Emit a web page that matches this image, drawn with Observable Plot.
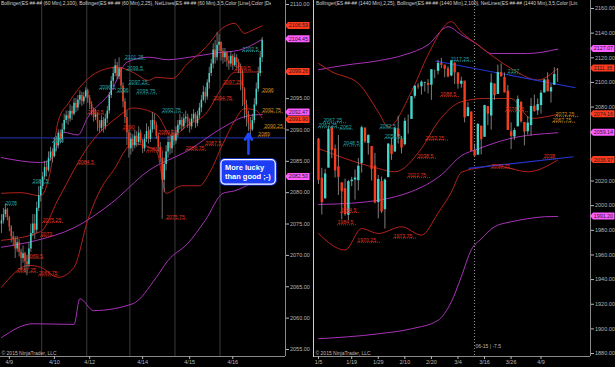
<!DOCTYPE html>
<html><head><meta charset="utf-8">
<script src="https://cdn.jsdelivr.net/npm/d3@7"></script>
<script src="https://cdn.jsdelivr.net/npm/@observablehq/plot@0.6"></script>
<style>
html,body{margin:0;padding:0;background:#000;}
#wrap{position:relative;width:615px;height:367px;background:#000;overflow:hidden;font-family:"Liberation Sans",Arial,sans-serif;}
#wrap svg{position:absolute;top:0;}
.hdr{position:absolute;top:1px;font-size:4.9px;line-height:6px;color:#d0d0d0;white-space:nowrap;overflow:hidden;z-index:5;}
.sep{position:absolute;left:313px;top:0;width:1px;height:357px;background:#cfcfcf;z-index:4;}
</style></head><body><div id="wrap"></div>
<script>
// ---------------- LEFT PANEL (60 min) ----------------
const leftHeader = "Bollinger(ES ##-## (60 Min),2,100), Bollinger(ES ##-## (60 Min),2,25), NetLines(ES ##-## (60 Min),3,5,Color [Line],Color [De";
const leftTickLabels = ["4/9","4/10","4/12","4/14","4/15","4/16"];
const leftTickBars = [4, 27, 45, 72, 96, 118];
const leftSessionLengths = [21, 23, 22, 23, 23, 22];
const leftFirstOpen = 2075;
const leftClose = [
 2075.5,2076.5,2077.25,2076,2074.5,2073,2072.5,2071,2072,2070.5,2069.5,2070.25,2069,2068.5,2071,2073.5,2075,2074,2077.5,2079.5,2081,
 2082.5,2084,2083.5,2085.5,2086.5,2085.75,2088,2087.5,2089.5,2088.5,2090,2091.5,2092.25,2091.75,2093,2092.5,2094.25,2093.5,2094.75,2095.5,2094.5,2095.25,2096.25,
 2095,2094,2093.25,2092,2092.5,2091,2090.25,2091.5,2090.5,2091.75,2093,2095.5,2097.75,2099,2100.25,2098.5,2099.75,2097,2094.5,2092,2089.5,2087,
 2088.5,2087.5,2089,2088,2089.5,2088.25,2087,2088.5,2089.75,2088.5,2090,2091.5,2090.75,2089,2087.25,2085.5,2082,2084.5,2086.5,2088,2087,2089,2088.25,
 2089.5,2090.75,2091.5,2090.5,2091.75,2092,2091.25,2090.5,2091.75,2092.5,2091,2092.25,2093.5,2094.75,2096,2095.25,2097.5,2099,2100.5,2102.75,2101.5,2103.5,2104,
 2102.5,2101.5,2102.25,2101,2100.5,2101.75,2100.25,2101.5,2100.75,2100,2099,2096.5,2094,2092.5,2091,2090,2091.5,2094,2096.5,2099,2101.5,2104.25];
const leftHigh = [
 2076.5,2077.5,2078.25,2077.5,2076.25,2074.75,2073.75,2073,2073,2072.5,2071,2071.5,2070.5,2070,2072,2075,2076.5,2076.5,2078.5,2081,2082,
 2083.25,2085,2085,2086.5,2087.25,2087,2088.75,2089,2090,2090,2091,2092.5,2093,2093,2094,2093.75,2095,2095,2095.5,2096.25,2096,2096,2096.75,
 2096.5,2095.5,2094.5,2093.5,2093.25,2092.75,2091.5,2092.25,2092,2092.5,2093.75,2096,2098.5,2100,2101.25,2100.75,2101.5,2100,2097.5,2095,2093,2090,
 2089.5,2089.25,2090,2089.75,2090.5,2090,2088.5,2089.25,2091,2090.5,2091.5,2092.75,2092.5,2091.25,2089.5,2088,2086.5,2085.5,2087.5,2089,2089,2090,2089.5,
 2090.5,2091.5,2092.5,2092,2092.5,2093,2092.5,2091.75,2092.5,2093.25,2092.75,2093,2094.25,2095.5,2097,2096.75,2098,2100,2101.25,2103.75,2104.25,2105.5,2105.25,
 2104,2103,2103,2102.5,2101.75,2102.5,2102,2102.25,2102,2101.25,2100.5,2099.5,2096.75,2094.75,2093,2092,2092.5,2095,2097.5,2100,2102.5,2104.75];
const leftLow = [
 2073.5,2075,2076,2075.5,2073.75,2072,2071.5,2069.5,2070.5,2069.75,2067.5,2068.75,2067.25,2066.75,2068,2070.5,2073,2072.5,2073.5,2077,2078.5,
 2080.5,2082,2082.5,2083.25,2085,2084.75,2085.5,2086.5,2087,2087.75,2088,2089.5,2091,2090.75,2091.25,2091.5,2092.25,2092.75,2093,2094,2093.75,2094,2095,
 2094.25,2093.25,2092.25,2091.25,2091.5,2089.75,2089.5,2089.75,2089.5,2090,2091,2092.5,2095,2097,2098.5,2098,2098,2096.5,2093.5,2091,2087.5,2085.5,
 2086,2086.5,2087,2087.25,2087.5,2087.75,2086.25,2086.5,2088,2087.75,2088,2089.5,2090,2088.5,2086.5,2084.75,2075.75,2080,2083.5,2085.5,2086,2086.25,2087.5,
 2087.75,2088.75,2090,2089.75,2090,2091,2090.25,2089.5,2090,2091.25,2090.25,2090.5,2091.75,2092.75,2094.5,2094.25,2094.75,2096.5,2098.5,2099.75,2100.5,2101,2102.5,
 2101,2100.5,2100.75,2100,2099.5,2100,2099.5,2100,2099.75,2099,2096.25,2093.75,2091.75,2090.5,2089.75,2089,2089.75,2091,2093.75,2096,2098.5,2100.75];
// Bollinger (2,100) and (2,25) on 60 min: [bar, value]
const h100Upper = [[0,2085.6],[20,2084.8],[25,2085.3],[32,2089.6],[39,2089.2],[44,2092],[56,2096.2],[64,2100.8],[75,2101.6],[85,2101.2],[96,2101.6],[110,2102.3],[121,2102.7],[133,2104.45]];
const h100Mid = [[0,2071.3],[18,2072.4],[37,2074.4],[56,2078.3],[75,2083.5],[95,2086.7],[113,2090.4],[125,2092.2],[133,2092.47]];
const h100Lower = [[0,2056.9],[16,2059.1],[37,2059.0],[40,2063.1],[47,2061.2],[67,2062.3],[79,2066.5],[85,2069.2],[95,2071.9],[104,2075.6],[113,2079.9],[119,2080.3],[128,2081.6],[133,2082.5]];
const h25Upper = [[0,2079.9],[10,2080],[20,2079.5],[25,2083.5],[29,2091.5],[34,2094.2],[45,2098.4],[51,2099.5],[59,2100],[67,2099.2],[75,2097.9],[79,2098.4],[87,2098.2],[95,2100.6],[104,2103.1],[113,2106.3],[119,2107],[124,2105.4],[128,2105.9],[133,2106.59]];
const h25Mid = [[0,2072.4],[20,2073.8],[29,2079],[45,2087.7],[59,2092],[67,2093.5],[79,2092.5],[87,2089],[95,2090.8],[104,2092.5],[113,2097],[119,2099.2],[133,2099.26]];
const h25Lower = [[0,2064.9],[14,2068.4],[20,2068.1],[29,2066.5],[37,2068.1],[44,2075.6],[51,2080.8],[57,2083.5],[67,2087.8],[79,2086.7],[84,2079.9],[92,2081.1],[101,2081.1],[106,2083.1],[113,2087.8],[119,2091.5],[124,2093.4],[130,2093.1],[133,2091.9]];
const leftLevels = [2088.75];
const leftNetText = ["2078","2081.5","2069.5","2067.25","2066.75","2073","2075.25","2088","2084.5","2092.5","2096.5","2096","2090","2101.25","2099.5","2097.25","2095.75","2086.5","2089.25","2092.75","2075.75","2086.75","2087.5","2094.75","2097.25","2099.5","2102.5","2096","2092.75","2090.25","2089"];
const leftNetBar  = [2,16,13,8,19,20,21,26,39,44,50,59,62,63,64,65,69,74,80,82,84,94,104,108,113,119,123,133,133,134,131];
const leftNetKind = ["hi","hi","lo","lo","lo","lo","lo","hi","lo","lo","hi","hi","lo","hi","hi","hi","hi","lo","lo","hi","lo","lo","lo","lo","lo","lo","hi","last","last","last","last"];
const leftNote = {text: "More lucky\nthan good ;-)", bar: 114, price: 2083.4};
const leftArrow = {bar: 126, from: 2086.2, to: 2089.4};
const leftYTicks = [2055,2060,2065,2070,2075,2080,2085,2090,2095,2100,2105,2110];

// ---------------- RIGHT PANEL (daily) ----------------
const rightHeader = "Bollinger(ES ##-## (1440 Min),2,25), Bollinger(ES ##-## (1440 Min),2,100), NetLines(ES ##-## (1440 Min),3,5,Color [Lin";
const rightDates = ["1/5","1/6","1/7","1/8","1/9","1/12","1/13","1/14","1/15","1/16","1/19","1/20","1/21","1/22","1/23","1/26","1/27","1/28","1/29","1/30",
 "2/2","2/3","2/4","2/5","2/6","2/9","2/10","2/11","2/12","2/13","2/16","2/17","2/18","2/19","2/20","2/23","2/24","2/25","2/26","2/27",
 "3/2","3/3","3/4","3/5","3/6","3/9","3/10","3/11","3/12","3/13","3/16","3/17","3/18","3/19","3/20","3/23","3/24","3/25","3/26","3/27","3/30","3/31",
 "4/1","4/2","4/6","4/7","4/8","4/9","4/10","4/13","4/14","4/15","4/16"];
const rightOpen = [2054,2022.25,2005.5,2030.5,2063.5,2046,2031.5,2018.5,2013.75,1992.25,
 2019.5,2020.75,2020.25,2034.25,2063,2050.5,2048,2032.25,2002.5,2019.5,
 1996.75,2022.75,2049,2043.5,2062.25,2053.5,2049.5,2068.5,2070,2088.75,
 2097,2096.5,2099.25,2099.25,2097.75,2109.75,2109,2115.25,2114,2111,
 2105.25,2115.75,2107.75,2098.5,2101,2072.25,2076,2044.75,2041,2064.5,
 2055.5,2080.5,2072.75,2098.75,2090.25,2108,2104,2093,2060,2055.75,
 2064,2084,2067.5,2060,2065,2080.75,2077,2081.25,2091.5,2102,
 2092.25,2097.75,2105];
const rightHigh = [2054.5,2030.25,2029.5,2064,2064.5,2049.25,2057,2018.5,2021.5,2020.5,
 2023,2029,2038.25,2064.5,2063,2057.5,2048,2042.5,2024.5,2023.25,
 2021.75,2050.25,2054.75,2063.5,2072.5,2056.25,2071,2073.5,2088.5,2097,
 2099,2101.25,2100.25,2102.25,2110.5,2110,2118,2119.5,2114,2112.75,
 2117.5,2115.75,2107.75,2104.25,2101,2083.5,2076,2050,2066.5,2064.5,
 2081.5,2080.5,2107,2098.75,2114,2115,2107.75,2097.5,2067.25,2062.75,
 2089,2084,2067.5,2072.25,2087,2089.75,2086.75,2093.25,2102.5,2107.75,
 2098.5,2112,2111.25];
const rightLow = [2017.25,1992.5,2005.5,2030.5,2038.25,2022.5,2008.25,1988.5,1991.5,1988,
 2015.5,2004.5,2012,2026.5,2050.5,2041,2020,2001.5,1989.25,1993.5,
 1981,2022.75,2036.75,2043.5,2050,2042,2048.5,2058,2070,2086.75,
 2094.5,2089.75,2092.25,2090.75,2085.5,2103,2106,2111.25,2103.75,2103.75,
 2104.5,2098.25,2094.5,2095.25,2067.25,2072.25,2044.25,2039.75,2041,2041.25,
 2055.5,2065,2061.25,2085.5,2090.25,2104.5,2091.5,2061,2045.5,2053,
 2064,2067,2048.5,2057.25,2056.5,2076,2073.25,2074.25,2091.5,2092.25,
 2083.25,2097.75,2100];
const rightClose = [2020.5,2002.5,2025.75,2062,2044.75,2028.25,2023,2011.25,1992.75,2019.5,
 2020.75,2022.5,2032,2063.25,2051.75,2057,2029.5,2002.25,2021.25,1995,
 2020.75,2050,2041.5,2062.5,2055.5,2046.75,2068.5,2068.5,2088.5,2097,
 2096.25,2100.25,2099.75,2097.5,2110.25,2109.75,2115.5,2114,2110.75,2104.5,
 2117.5,2107.75,2098.5,2101,2071.25,2079.5,2044.25,2040.25,2066,2053.5,
 2081.25,2074.25,2099.5,2089.25,2108,2104.5,2091.5,2061,2056.25,2061,
 2086.25,2068,2059.75,2067,2080.5,2076.25,2082,2091.25,2102,2092.5,
 2095.75,2106.5,2105];
const d100Upper = [[0,2110.3],[8,2114],[18,2117.6],[26,2122.5],[33,2130.6],[39,2145.2],[43,2138.7],[48,2130.6],[52,2123.5],[63,2123.5],[72,2127.07]];
const d100Mid = [[0,2001],[10,2002],[28,2011.5],[37,2025],[43,2040.5],[48,2046],[57,2054],[72,2059.14]];
const d100Lower = [[0,1892],[18,1896],[28,1900.1],[36,1907],[40,1922],[43,1942.3],[46,1964.2],[49,1973],[53,1982.9],[58,1986.9],[63,1989.4],[68,1991],[72,1991.2]];
const d25Upper = [[0,2115.4],[4,2108.7],[12,2099.2],[18,2076.2],[21,2064],[28,2092.5],[33,2122.5],[40,2149.3],[43,2141],[48,2130.4],[58,2111.4],[66,2102],[72,2111.35]];
const d25Mid = [[0,2046.4],[8,2038.3],[18,2030.2],[23,2027.5],[31,2046.4],[36,2068],[43,2084.3],[50,2087],[58,2087],[64,2070.8],[72,2074.16]];
const d25Lower = [[0,1977.4],[8,1964],[13,1981.5],[18,1977.4],[25,1982.9],[31,1976.1],[36,1994],[40,2011],[43,2027],[49,2031],[53,2033],[58,2030],[63,2027.5],[72,2036.97]];
const rightTrends = [[35.2,2117.4,77.4,2095.7],[45.2,2030.2,76.8,2039.7]];
const rightNetText = ["2067.25","2063.25","2062","2048.5","1994.5","1984.5","1970.25","2062.5","2054.5","1973.75","2022.75","2038.5","2053.25","2088.5","2117.25","2107","2076.25","2030.25","2038","2072.25","2067.75"];
const rightNetBar  = [1.5,0,6.5,7.5,6.6,5.7,11.7,18.5,20,22.6,26.8,29.8,32.2,36.7,39.8,57,56.3,52,67.8,71.4,70.5];
const rightNetKind = ["hi","hi","hi","hi","lo","lo","lo","hi","hi","lo","lo","lo","lo","lo","hi","hi","lo","lo","lo","last","last"];
const rightTickLabels = ["1/5","1/19","1/29","2/10","2/20","3/4","3/16","3/26","4/9"];
const rightYTicks = [1880,1900,1920,1940,1960,1980,2000,2020,2040,2060,2080,2100,2120,2140,2160];
const rightRollDate = "3/11";
const rightRollLabel = "06-15 | -7.5";
const copyright = "\u00a9 2015 NinjaTrader, LLC";

// ---------------- styles ----------------
const FONT = "Liberation Sans, Arial, sans-serif";
const UP = "#44d6cb", DOWN = "#f43d1e", WICK = "#9d9d9d";
const RED = "#b3221a", MAG = "#a832b8";
const FLAG_RED = "#ff3b1f", FLAG_MAG = "#ff5cff";
const NET = {hi: "#26a8a5", lo: "#e0331f", last: "#d8901f"};
const FLAG_H = 7.4;

function band(data, stroke) {
  return Plot.line(data, {x: d => d[0], y: d => d[1], stroke, strokeWidth: 1, curve: "monotone-x"});
}
function candles(bars, bodyW, wickW) {
  return [
    Plot.ruleX(bars, {x: "i", y1: d => Math.min(d.l, d.o, d.c), y2: d => Math.max(d.h, d.o, d.c), stroke: WICK, strokeWidth: wickW}),
    Plot.ruleX(bars, {x: "i", y1: "o", y2: "c", stroke: d => d.c >= d.o ? UP : DOWN, strokeWidth: bodyW})
  ];
}
function nets(list, perChar) {
  return [
    Plot.ruleY(list, {y: "v", x1: "bar", x2: d => d.bar + d.t.length * perChar, stroke: d => NET[d.k], strokeWidth: 0.8, strokeDasharray: "1,1"}),
    Plot.text(list, {x: "bar", y: "v", text: "t", fill: d => NET[d.k], fontSize: 5.2, textAnchor: "start", lineAnchor: "bottom", dy: -0.5})
  ];
}
// Price flags: last value of each band line, pushed apart so they do not overlap
function flagLayout(series, domain, innerH) {
  const k = innerH / (domain[1] - domain[0]);
  const fl = series.map(([s, fill]) => ({v: s[s.length - 1][1], fill, py: (domain[1] - s[s.length - 1][1]) * k}))
    .sort((a, b) => a.py - b.py);
  for (let it = 0; it < 20; it++) {
    for (let i = 1; i < fl.length; i++) {
      const gap = fl[i].py - fl[i - 1].py;
      if (gap < FLAG_H) { const m = (FLAG_H - gap) / 2; fl[i - 1].py -= m; fl[i].py += m; }
    }
  }
  return fl;
}
// keep only axis ticks that are not hidden under a flag
const visibleTicks = (ticks, flags, domain, innerH) => {
  const k = innerH / (domain[1] - domain[0]);
  return ticks.filter(t => !flags.some(f => Math.abs((domain[1] - t) * k - f.py) < 7));
};
function addFlags(svg, flags, x0) {
  const g = d3.select(svg).append("g").attr("font-family", FONT).attr("font-size", 5.3).attr("text-anchor", "start");
  for (const f of flags) {
    const yy = f.py;
    g.append("path").attr("d", `M${x0},${yy}l3,-3.5h21.5v7h-21.5z`).attr("fill", f.fill);
    g.append("text").attr("x", x0 + 3.8).attr("y", yy + 1.9).attr("text-anchor", "start").attr("fill", "#1a1a1a").text(f.v.toFixed(2));
  }
}
function boxNote(svg, needle) {
  const t = [...svg.querySelectorAll("text")].find(e => e.textContent.includes(needle));
  if (!t) return;
  const b = t.getBBox();
  const tr = t.getAttribute("transform");
  const ns = "http://www.w3.org/2000/svg";
  const mk = (pad, rx, attrs) => {
    const r = document.createElementNS(ns, "rect");
    r.setAttribute("x", b.x - pad - 1); r.setAttribute("y", b.y - pad);
    r.setAttribute("width", b.width + 2 * pad + 2); r.setAttribute("height", b.height + 2 * pad);
    r.setAttribute("rx", rx);
    if (tr) r.setAttribute("transform", tr);
    for (const k in attrs) r.setAttribute(k, attrs[k]);
    t.parentNode.insertBefore(r, t);
  };
  mk(4.5, 5, {fill: "#1d3df5"});
  mk(3, 4, {fill: "#1d3df5", stroke: "#ffffff", "stroke-width": 1.2});
}

// ---------------- build left ----------------
const leftBars = leftClose.map((c, i) => ({i, o: i ? leftClose[i - 1] : leftFirstOpen, h: leftHigh[i], l: leftLow[i], c}));
const leftBreaks = d3.cumsum(leftSessionLengths).slice(0, -1).map(v => v - 0.5);
const leftTickMap = new Map(leftTickBars.map((b, i) => [b, leftTickLabels[i]]));
const leftNets = leftNetText.map((t, i) => ({t, v: +t, bar: leftNetBar[i], k: leftNetKind[i]}));
const LX = [-0.5, 144.9], LY = [2053.88, 2110.64], LH = 356;
const leftFlags = flagLayout([[h25Upper, FLAG_RED], [h100Upper, FLAG_MAG], [h25Mid, FLAG_RED], [h100Mid, FLAG_MAG], [h25Lower, FLAG_RED], [h100Lower, FLAG_MAG]], LY, LH);

const leftPlot = Plot.plot({
  width: 312, height: 367, marginTop: 0, marginRight: 27, marginBottom: 11, marginLeft: 0,
  style: {background: "#000", color: "#b8b8b8", fontFamily: FONT, overflow: "visible"},
  x: {domain: LX}, y: {domain: LY}, color: {type: "identity"},
  marks: [
    Plot.ruleX(leftBreaks, {stroke: "#3b3b3b"}),
    Plot.ruleY(leftLevels, {stroke: "#1d2b90", strokeWidth: 1.2}),
    band(h100Upper, MAG), band(h100Mid, MAG), band(h100Lower, MAG),
    band(h25Upper, RED), band(h25Mid, RED), band(h25Lower, RED),
    ...candles(leftBars, 1.5, 0.7),
    ...nets(leftNets, 1.55),
    Plot.arrow([leftArrow], {x1: "bar", x2: "bar", y1: "from", y2: "to", stroke: "#1f46ff", strokeWidth: 2.6, headLength: 7}),
    Plot.text([leftNote], {x: "bar", y: "price", text: "text", fill: "#ffffff", fontSize: 7.5, fontWeight: "bold", textAnchor: "start", lineHeight: 1.25}),
    Plot.ruleX([LX[1]], {stroke: "#8a8a8a"}),
    Plot.ruleY([LY[0]], {stroke: "#8a8a8a"}),
    Plot.axisY({anchor: "right", ticks: visibleTicks(leftYTicks, leftFlags, LY, LH), tickFormat: d3.format(".2f"), tickSize: 3, tickPadding: 1.5, fontSize: 5.5}),
    Plot.axisX({anchor: "bottom", ticks: leftTickBars, tickFormat: d => leftTickMap.get(d), tickSize: 3, tickPadding: 1, fontSize: 5.5}),
    Plot.text([copyright], {frameAnchor: "bottom-left", text: d => d, dx: 1, dy: -2, fill: "#bdbdbd", fontSize: 5, textAnchor: "start", lineAnchor: "bottom"})
  ]
});

// ---------------- build right ----------------
const rightBars = rightClose.map((c, i) => ({i, o: rightOpen[i], h: rightHigh[i], l: rightLow[i], c}));
const rightTickBars = rightTickLabels.map(d => rightDates.indexOf(d));
const rightTickMap = new Map(rightTickBars.map((b, i) => [b, rightTickLabels[i]]));
const rightNets = rightNetText.map((t, i) => ({t, v: +t, bar: rightNetBar[i], k: rightNetKind[i]}));
const rollBar = rightDates.indexOf(rightRollDate);
const RX = [-1.2, 81.9], RY = [1877.6, 2166.5], RH = 356;
const rightFlags = flagLayout([[d25Upper, FLAG_RED], [d100Upper, FLAG_MAG], [d25Mid, FLAG_RED], [d100Mid, FLAG_MAG], [d25Lower, FLAG_RED], [d100Lower, FLAG_MAG]], RY, RH);

const rightPlot = Plot.plot({
  width: 303, height: 367, marginTop: 0, marginRight: 25, marginBottom: 11, marginLeft: 2,
  style: {background: "#000", color: "#b8b8b8", fontFamily: FONT, overflow: "visible"},
  x: {domain: RX}, y: {domain: RY}, color: {type: "identity"},
  marks: [
    Plot.ruleX([rollBar], {stroke: "#9a9a9a", strokeDasharray: "1,2"}),
    band(d100Upper, MAG), band(d100Mid, MAG), band(d100Lower, MAG),
    band(d25Upper, RED), band(d25Mid, RED), band(d25Lower, RED),
    Plot.link(rightTrends, {x1: d => d[0], y1: d => d[1], x2: d => d[2], y2: d => d[3], stroke: "#2436d0", strokeWidth: 1.2}),
    ...candles(rightBars, 2.4, 0.8),
    ...nets(rightNets, 1.0),
    Plot.ruleX([RX[1]], {stroke: "#8a8a8a"}),
    Plot.ruleY([RY[0]], {stroke: "#8a8a8a"}),
    Plot.axisY({anchor: "right", ticks: visibleTicks(rightYTicks, rightFlags, RY, RH), tickFormat: d3.format(".2f"), tickSize: 3, tickPadding: 1.5, fontSize: 5.5}),
    Plot.axisX({anchor: "bottom", ticks: rightTickBars, tickFormat: d => rightTickMap.get(d), tickSize: 3, tickPadding: 1, fontSize: 5.5}),
    Plot.text([rightRollLabel], {x: () => rollBar, frameAnchor: "bottom", text: d => d, dx: 1, dy: -9, fill: "#bdbdbd", fontSize: 5, textAnchor: "start", lineAnchor: "bottom"}),
    Plot.text([copyright], {frameAnchor: "bottom-left", text: d => d, dx: 1, dy: -2, fill: "#bdbdbd", fontSize: 5, textAnchor: "start", lineAnchor: "bottom"})
  ]
});

// ---------------- assemble ----------------
const wrap = document.getElementById("wrap");
leftPlot.style.left = "0px";
rightPlot.style.left = "312px";
wrap.append(leftPlot, rightPlot);
const sep = document.createElement("div"); sep.className = "sep"; wrap.append(sep);
const h1 = document.createElement("div"); h1.className = "hdr"; h1.style.left = "1px"; h1.style.width = "270px"; h1.textContent = leftHeader;
const h2 = document.createElement("div"); h2.className = "hdr"; h2.style.left = "316px"; h2.style.width = "262px"; h2.textContent = rightHeader;
wrap.append(h1, h2);

addFlags(leftPlot, leftFlags, 285);
addFlags(rightPlot, rightFlags, 278);
boxNote(leftPlot, "More lucky");
</script></body></html>
